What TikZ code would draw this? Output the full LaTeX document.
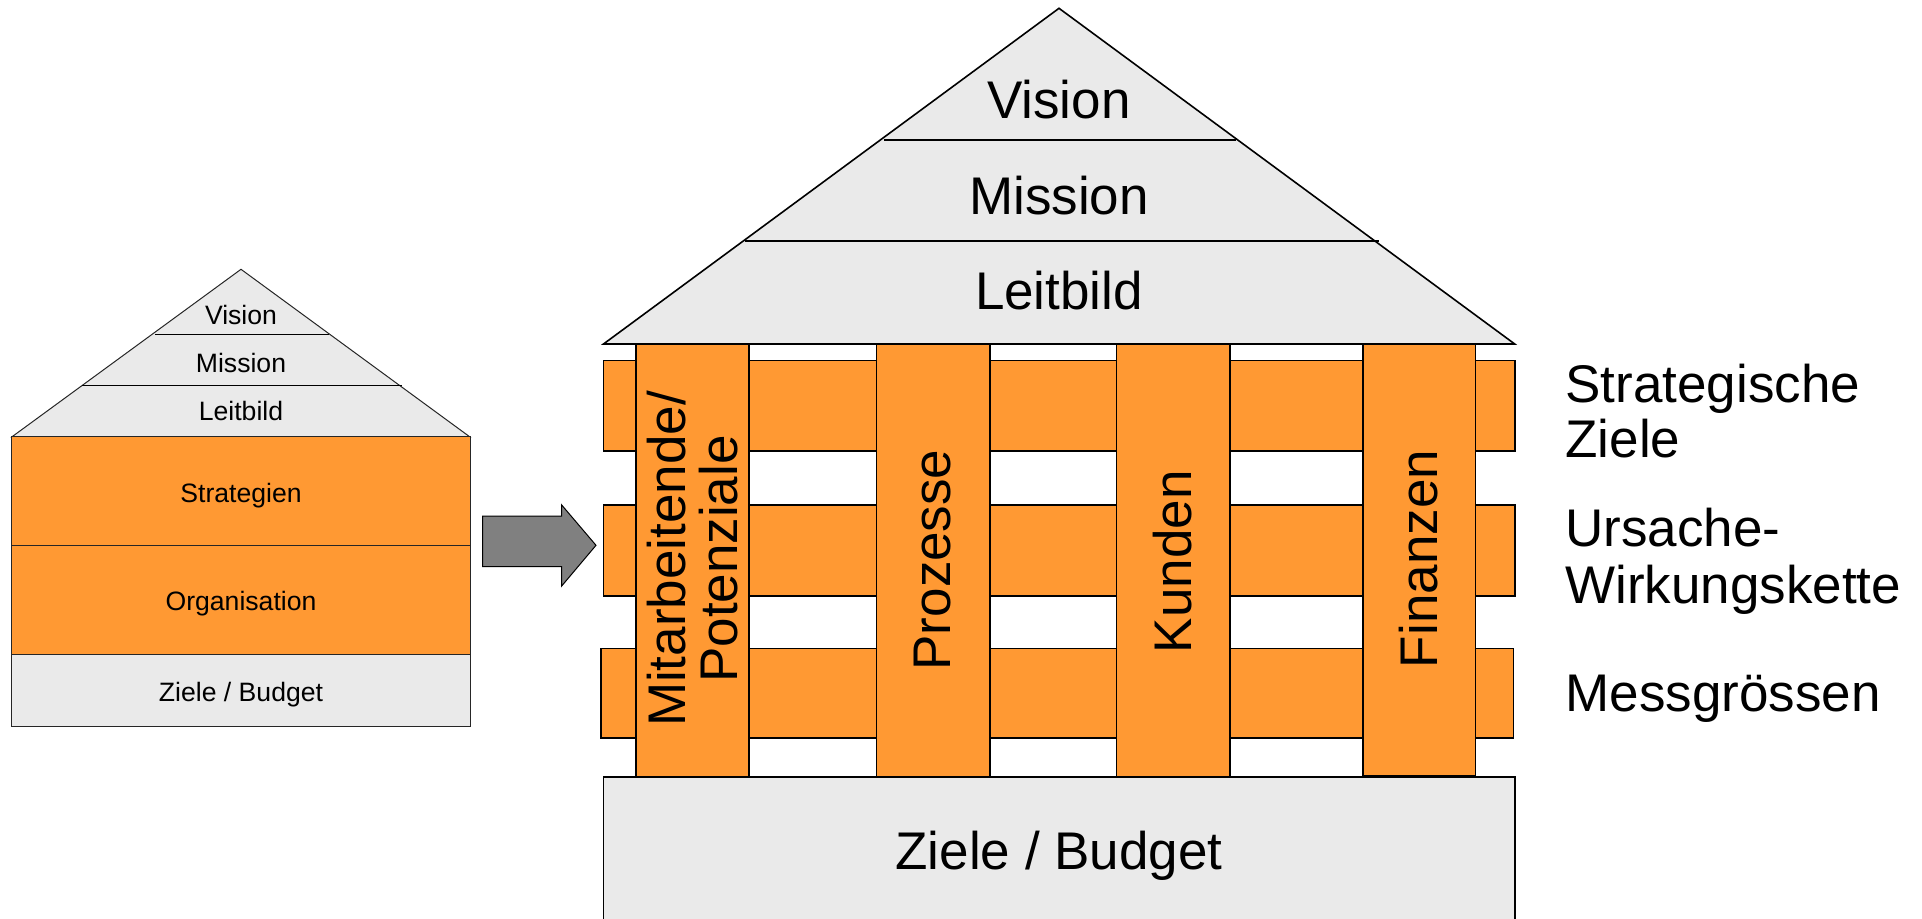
\documentclass[tikz,border=0pt]{standalone}
\usepackage{fontspec}
\setmainfont{Liberation Sans}
\definecolor{bscorange}{HTML}{FF9933}
\definecolor{roofgray}{HTML}{EAEAEA}
\definecolor{arrowgray}{HTML}{808080}
\begin{document}
\begin{tikzpicture}[x=0.5pt,y=-0.5pt,
  bigtxt/.style={font=\fontsize{26.5pt}{26.5pt}\selectfont, inner sep=0pt},
  smalltxt/.style={font=\fontsize{13.3pt}{16pt}\selectfont, inner sep=0pt},
  bigorange/.style={fill=bscorange, draw=black, line width=0.8pt},
  biggray/.style={fill=roofgray, draw=black, line width=0.8pt},
  bigline/.style={draw=black, line width=1pt},
  smallorange/.style={fill=bscorange, draw=black!85, line width=0.5pt},
  smallgray/.style={fill=roofgray, draw=black!85, line width=0.5pt},
  smallline/.style={draw=black, line width=0.5pt},
  coltxt/.style={bigtxt, rotate=90, align=center}]
\useasboundingbox (0,0) rectangle (1922,919);

% ---------- small house ----------
\filldraw[smallgray] (11.7,437) -- (241,269.3) -- (470,437) -- cycle;
\draw[smallline] (155,334.3) -- (329.3,334.3);
\draw[smallline] (82,385.7) -- (401.7,385.7);
\filldraw[smallorange] (11.7,437) rectangle (470,545.7);
\filldraw[smallorange] (11.7,545.7) rectangle (470,654.3);
\filldraw[smallgray] (11.7,654.3) rectangle (470,726.7);
\node[smalltxt, anchor=base] (sVis) at (241,324.3) {Vision};
\node[smalltxt, anchor=base] (sMis) at (241,372.5) {Mission};
\node[smalltxt, anchor=base] (sLei) at (241,421) {Leitbild};
\node[smalltxt, anchor=base] (sStr) at (241,502.3) {Strategien};
\node[smalltxt, anchor=base] (sOrg) at (241,610) {Organisation};
\node[smalltxt, anchor=base] (sZie) at (241,701) {Ziele / Budget};

% ---------- arrow ----------
\filldraw[fill=arrowgray, draw=black, line width=0.5pt]
  (482.7,516) -- (561.7,516) -- (561.7,505) -- (596,545.3) --
  (561.7,586) -- (561.7,566.7) -- (482.7,566.7) -- cycle;

% ---------- big house ----------
\filldraw[biggray] (603.5,344) -- (1059,8.3) -- (1514.7,344) -- cycle;
\draw[bigline] (884,140) -- (1236,140);
\draw[bigline] (745,240.7) -- (1378.7,240.7);
\node[bigtxt, anchor=base] (bVis) at (1059,118.3) {Vision};
\node[bigtxt, anchor=base] (bMis) at (1059,215) {Mission};
\node[bigtxt, anchor=base] (bLei) at (1059,310) {Leitbild};

% horizontal bars
\filldraw[bigorange] (603.5,360.7) rectangle (1515,451);
\filldraw[bigorange] (603.5,504.7) rectangle (1515,595.7);
\filldraw[bigorange] (601,648.3) rectangle (1513.5,737.7);

% columns
\filldraw[bigorange] (636,344) rectangle (749,776.7);
\filldraw[bigorange] (876.6,344) rectangle (990,776.7);
\filldraw[bigorange] (1116.6,344) rectangle (1230,776.7);
\filldraw[bigorange] (1363,344) rectangle (1475.5,775.5);
\node[coltxt, font=\fontsize{26.5pt}{26.3pt}\selectfont] (cMit) at (692.5,559) {Mitarbeitende/\\Potenziale};
\node[coltxt] (cPro) at (933,560) {Prozesse};
\node[coltxt] (cKun) at (1173,561.7) {Kunden};
\node[coltxt] (cFin) at (1419,559) {Finanzen};

% base
\filldraw[biggray] (603.5,776.7) rectangle (1515,935);
\node[bigtxt, anchor=base] (bZie) at (1059,869) {Ziele / Budget};

% right labels
\node[bigtxt, anchor=base west] (lStr1) at (1565,402.7) {Strategische};
\node[bigtxt, anchor=base west] (lStr2) at (1565,458) {Ziele};
\node[bigtxt, anchor=base west] (lUrs1) at (1565,546) {Ursache-};
\node[bigtxt, anchor=base west] (lUrs2) at (1565,603) {Wirkungskette};
\node[bigtxt, anchor=base west] (lMes) at (1565,711) {Messgrössen};
\end{tikzpicture}
\end{document}
